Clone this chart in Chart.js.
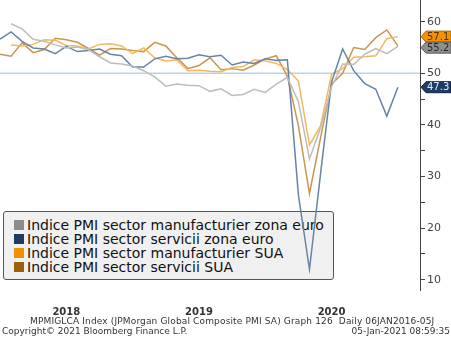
<!DOCTYPE html>
<html>
<head>
<meta charset="utf-8">
<script src="https://cdn.jsdelivr.net/npm/chart.js@4.4.1/dist/chart.umd.min.js"></script>
<style>
  body { margin: 0; background: #fff; }
  #wrap { position: relative; width: 451px; height: 338px; overflow: hidden; }
  #pmi { position: absolute; left: 0; top: 0; z-index: 2; }
  #legend {
    position: absolute; left: 3px; top: 211px; width: 331px; height: 69px;
    background: #f0f0f0; border: 1px solid #555; border-radius: 3px; z-index: 1;
    font: 14px "DejaVu Sans", sans-serif; color: #111; padding-top: 6px; box-sizing: border-box;
  }
  #legend div { height: 14px; line-height: 14px; white-space: nowrap; padding-left: 10px; }
  #legend span { display: inline-block; width: 10px; height: 10px; margin-right: 3px; vertical-align: 0px; }
  .foot { position: absolute; font: 9px "DejaVu Sans", sans-serif; color: #333; white-space: nowrap; z-index: 3; }
</style>
</head>
<body>
<div id="wrap">
  <div id="legend"></div>
  <canvas id="pmi" width="451" height="338"></canvas>
  <div class="foot" style="left:30px; top:316px; letter-spacing:0.15px;">MPMIGLCA Index (JPMorgan Global Composite PMI SA) Graph 126&nbsp; Daily 06JAN2016-05J</div>
  <div class="foot" style="left:2px; top:326px;">Copyright© 2021 Bloomberg Finance L.P.</div>
  <div class="foot" style="right:1px; top:326px;">05-Jan-2021 08:59:35</div>
</div>
<script>
var months = ['Dec 2017',
    'Jan 2018', 'Feb 2018', 'Mar 2018', 'Apr 2018', 'May 2018', 'Jun 2018', 'Jul 2018', 'Aug 2018', 'Sep 2018', 'Oct 2018', 'Nov 2018', 'Dec 2018',
    'Jan 2019', 'Feb 2019', 'Mar 2019', 'Apr 2019', 'May 2019', 'Jun 2019', 'Jul 2019', 'Aug 2019', 'Sep 2019', 'Oct 2019', 'Nov 2019', 'Dec 2019',
    'Jan 2020', 'Feb 2020', 'Mar 2020', 'Apr 2020', 'May 2020', 'Jun 2020', 'Jul 2020', 'Aug 2020', 'Sep 2020', 'Oct 2020', 'Nov 2020', 'Dec 2020',
    'Jan 2021', 'Feb 2021']

var euroManuf = [null,
    59.6, 58.6, 56.6, 56.2, 55.5, 54.9, 55.1, 54.6, 53.2, 52.0, 51.8, 51.4,
    50.5, 49.3, 47.5, 47.9, 47.7, 47.6, 46.5, 47.0, 45.7, 45.9, 46.9, 46.3,
    47.9, 49.2, 44.5, 33.4, 39.4, 47.4, 51.8, 51.7, 53.7, 54.8, 53.8, 55.2]
var euroServ = [56.6,
    58.0, 56.2, 54.9, 54.7, 53.8, 55.2, 54.2, 54.4, 54.7, 53.7, 53.4, 51.2,
    51.2, 52.8, 53.3, 52.8, 52.9, 53.6, 53.2, 53.5, 51.6, 52.2, 51.9, 52.8,
    52.5, 52.6, 26.4, 12.0, 30.5, 48.3, 54.7, 50.5, 48.0, 46.9, 41.7, 47.3]
var usManuf = [null,
    55.5, 55.3, 55.6, 56.5, 56.4, 55.4, 55.3, 54.7, 55.6, 55.7, 55.3, 53.8,
    54.9, 53.0, 52.4, 52.6, 50.5, 50.6, 50.4, 50.3, 51.1, 51.3, 52.6, 52.4,
    51.9, 50.7, 48.5, 36.1, 39.8, 49.8, 50.9, 53.1, 53.2, 53.4, 56.7, 57.1]
var usServ = [53.7,
    53.3, 55.9, 54.0, 54.6, 56.8, 56.5, 56.0, 54.8, 53.5, 54.8, 54.7, 54.4,
    54.2, 56.0, 55.3, 53.0, 50.9, 51.5, 53.0, 50.7, 50.9, 50.6, 51.6, 52.8,
    53.4, 49.4, 39.8, 26.7, 37.5, 47.9, 50.0, 55.0, 54.6, 56.9, 58.4, 55.3]

var seriesNames = ['Indice PMI sector manufacturier zona euro', 'Indice PMI sector servicii zona euro',
    'Indice PMI sector manufacturier SUA', 'Indice PMI sector servicii SUA']
var yTicks = [10, 15, 20, 25, 30, 35, 40, 45, 50, 55, 60]
var lastLabels = ['57.1', '55.2', '47.3']

var lineColors = ['#bdbdbd', '#6784a6', '#f6b75c', '#c9964e']
var keyColors = ['#8c8c8c', '#1f3b63', '#f39000', '#9d5f0c']

// legend box sits behind the canvas so the lines cross over it
var legendEl = document.getElementById('legend')
seriesNames.forEach(function (name, i) {
    var row = document.createElement('div')
    row.innerHTML = '<span style="background:' + keyColors[i] + '"></span>' + name
    legendEl.appendChild(row)
})

var refLine = {
    id: 'refLine',
    beforeDatasetsDraw: function (chart) {
        var ctx = chart.ctx, a = chart.chartArea
        var y = chart.scales.y.getPixelForValue(50)
        ctx.save()
        ctx.strokeStyle = '#b9d3ee'
        ctx.lineWidth = 1.5
        ctx.beginPath()
        ctx.moveTo(a.left, y)
        ctx.lineTo(a.right, y)
        ctx.stroke()
        ctx.restore()
    }
}

// last-value tags on the right axis
var lastTags = {
    id: 'lastTags',
    afterDraw: function (chart) {
        var ctx = chart.ctx, ys = chart.scales.y
        var x0 = chart.chartArea.right + 1
        var tags = [
            { v: usManuf[usManuf.length - 1], txt: lastLabels[0], bg: '#f39200', fg: '#5c3300', bd: '#a86400' },
            { v: euroManuf[euroManuf.length - 1], txt: lastLabels[1], bg: '#8f8f8f', fg: '#262626', bd: '#5a5a5a' },
            { v: euroServ[euroServ.length - 1], txt: lastLabels[2], bg: '#1d3d66', fg: '#e4ecf5', bd: '#10243f' }
        ]
        var prev = -100
        ctx.save()
        ctx.font = '10px "DejaVu Sans"'
        ctx.textBaseline = 'middle'
        tags.forEach(function (t) {
            var y = Math.max(ys.getPixelForValue(t.v), prev + 11)
            prev = y
            ctx.beginPath()
            ctx.moveTo(x0, y)
            ctx.lineTo(x0 + 5, y - 5.5)
            ctx.lineTo(451, y - 5.5)
            ctx.lineTo(451, y + 5.5)
            ctx.lineTo(x0 + 5, y + 5.5)
            ctx.closePath()
            ctx.fillStyle = t.bg
            ctx.fill()
            ctx.strokeStyle = t.bd
            ctx.lineWidth = 1
            ctx.stroke()
            ctx.fillStyle = t.fg
            ctx.fillText(t.txt, x0 + 6, y + 0.5)
        })
        ctx.restore()
    }
}

function makeSet(label, data, color) {
    return {
        label: label,
        data: data,
        borderColor: color,
        borderWidth: 1.5,
        pointRadius: 0,
        tension: 0,
        fill: false
    }
}

var ctx = document.getElementById('pmi').getContext('2d')
var myChart = new Chart(ctx, {
    type: 'line',
    data: {
        labels: months,
        datasets: [
            makeSet(seriesNames[0], euroManuf, lineColors[0]),
            makeSet(seriesNames[1], euroServ, lineColors[1]),
            makeSet(seriesNames[2], usManuf, lineColors[2]),
            makeSet(seriesNames[3], usServ, lineColors[3])
        ]
    },
    options: {
        responsive: false,
        animation: false,
        layout: { padding: 0 },
        plugins: {
            legend: { display: false },
            tooltip: { enabled: false }
        },
        scales: {
            x: {
                offset: false,
                grid: { display: false },
                border: { display: false },
                ticks: {
                    autoSkip: false,
                    maxRotation: 0,
                    padding: 8,
                    color: '#333',
                    font: { family: 'DejaVu Sans', size: 10, weight: 'bold' },
                    callback: function (val, i) {
                        var m = months[i]
                        return m.indexOf('Jun') === 0 ? m.slice(4) : ''
                    }
                },
                afterFit: function (scale) {
                    scale.height = 48
                    scale.paddingLeft = 0
                    scale.paddingRight = 0
                }
            },
            y: {
                position: 'right',
                min: 8,
                max: 64.2,
                grid: { drawOnChartArea: false, drawTicks: true, tickLength: 5, color: '#444' },
                border: { display: true, color: '#444', width: 1 },
                afterBuildTicks: function (scale) {
                    scale.ticks = yTicks.map(function (v) { return { value: v } })
                },
                ticks: {
                    padding: 2,
                    color: '#444',
                    font: { family: 'DejaVu Sans', size: 11 },
                    callback: function (v) { return v % 10 === 0 ? v : '' }
                },
                afterFit: function (scale) {
                    scale.width = 31
                    scale.paddingTop = 0
                    scale.paddingBottom = 0
                }
            }
        }
    },
    plugins: [refLine, lastTags]
})
</script>
</body>
</html>
